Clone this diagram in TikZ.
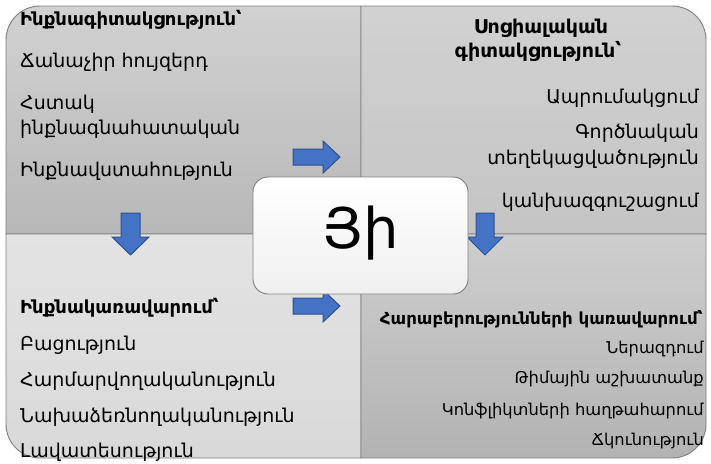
\documentclass[tikz,border=0pt]{standalone}
\usepackage{fontspec}
\setmainfont{DejaVu Sans}
\usetikzlibrary{calc}
\definecolor{arrfill}{HTML}{4472C4}
\definecolor{arrdraw}{HTML}{2F528F}
\definecolor{quadline}{HTML}{7F7F7F}
\tikzset{
  quad/.style={draw=quadline, line width=0.9pt},
  blockarrow/.style={fill=arrfill, draw=arrdraw, line width=1pt, line join=miter},
  itemL/.style={anchor=base west, inner sep=0pt, font=\fontsize{19}{21}\selectfont},
  itemR/.style={anchor=base east, inner sep=0pt, font=\fontsize{19}{21}\selectfont},
  headL/.style={anchor=base west, inner sep=0pt, font=\fontsize{18}{20}\selectfont\bfseries},
  headC/.style={anchor=base, inner sep=0pt, font=\fontsize{19}{21}\selectfont\bfseries},
  smallR/.style={anchor=base east, inner sep=0pt, font=\fontsize{16.3}{18}\selectfont},
  smallhead/.style={anchor=base east, inner sep=0pt, font=\fontsize{16.6}{18}\selectfont\bfseries},
}
\begin{document}
\begin{tikzpicture}[x=1pt,y=-1pt]
\useasboundingbox (0,0) rectangle (711,463);
\fill[white] (0,0) rectangle (711,463);
% quadrants
\def\r{34}
\shade[top color=black!18, bottom color=black!28] (6,234) -- (6,6+\r) arc(180:270:\r) -- (361,6) -- (361,234) -- cycle;
\draw[quad] (6,234) -- (6,6+\r) arc(180:270:\r) -- (361,6) -- (361,234) -- cycle;
\shade[top color=black!18, bottom color=black!23] (361,6) -- (706-\r,6) arc(270:360:\r) -- (706,234) -- (361,234) -- cycle;
\draw[quad] (361,6) -- (706-\r,6) arc(270:360:\r) -- (706,234) -- (361,234) -- cycle;
\shade[top color=black!11, bottom color=black!15] (6,234) -- (361,234) -- (361,458) -- (6+\r,458) arc(90:180:\r) -- cycle;
\draw[quad] (6,234) -- (361,234) -- (361,458) -- (6+\r,458) arc(90:180:\r) -- cycle;
\shade[top color=black!19, bottom color=black!30] (361,234) -- (706,234) -- (706,458-\r) arc(0:90:\r) -- (361,458) -- cycle;
\draw[quad] (361,234) -- (706,234) -- (706,458-\r) arc(0:90:\r) -- (361,458) -- cycle;

% top-left texts
\node[headL] (tlh) at (20,25) {Ինքնագիտակցություն՝};
\node[itemL] (tl1) at (20,67) {Ճանաչիր հույզերդ};
\node[itemL] (tl2) at (20,109) {Հստակ};
\node[itemL] (tl3) at (20,134) {ինքնագնահատական};
\node[itemL] (tl4) at (20,176) {Ինքնավստահություն};
% top-right texts
\node[headC] (trh1) at (541,33) {Սոցիալական};
\node[headC] (trh2) at (538,57) {գիտակցություն՝};
\node[itemR] (tr1) at (699,103) {Ապրումակցում};
\node[itemR] (tr2) at (699,138) {Գործնական};
\node[itemR] (tr3) at (699,164) {տեղեկացվածություն};
\node[itemR] (tr4) at (699,207) {կանխազգուշացում};
% bottom-left texts
\node[headL] (blh) at (20,313) {Ինքնակառավարում՝};
\node[itemL] (bl1) at (20,350) {Բացություն};
\node[itemL] (bl2) at (20,386) {Հարմարվողականություն};
\node[itemL] (bl3) at (20,422) {Նախաձեռնողականություն};
\node[itemL] (bl4) at (20,457) {Լավատեսություն};
% bottom-right texts
\node[smallhead] (brh) at (703,324) {Հարաբերությունների կառավարում՝};
\node[smallR] (br1) at (704,353) {Ներազդում};
\node[smallR] (br2) at (704,383) {Թիմային աշխատանք};
\node[smallR] (br3) at (704,415) {Կոնֆլիկտների հաղթահարում};
\node[smallR] (br4) at (704,445) {Ճկունություն};

% arrows
\draw[blockarrow] (293,149) -- (323,149) -- (323,141) -- (340,157) -- (323,173) -- (323,165) -- (293,165) -- cycle;
\draw[blockarrow] (293,298) -- (323,298) -- (323,290) -- (340,306) -- (323,322) -- (323,314) -- (293,314) -- cycle;
\draw[blockarrow] (121,213) -- (140,213) -- (140,237) -- (149,237) -- (130.5,255) -- (112,237) -- (121,237) -- cycle;
\draw[blockarrow] (476,213) -- (494,213) -- (494,237) -- (503,237) -- (485,255) -- (467,237) -- (476,237) -- cycle;

% centre box
\shade[top color=white, bottom color=black!6, rounded corners=15pt] (253,177) rectangle (468,294);
\draw[draw=black!50, line width=0.9pt, rounded corners=15pt] (253,177) rectangle (468,294);
\node[inner sep=0pt, font=\fontsize{56}{60}\selectfont] (ei) at (361,233) {Յի};
\end{tikzpicture}
\end{document}
